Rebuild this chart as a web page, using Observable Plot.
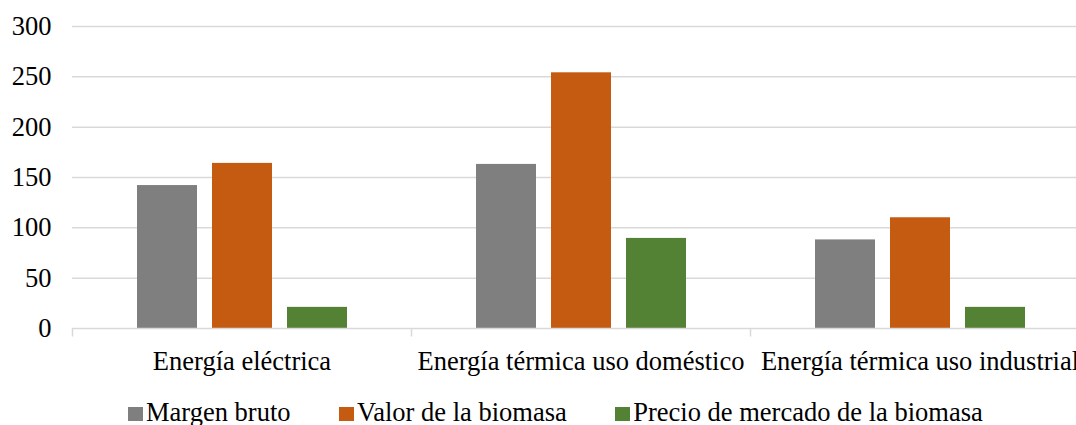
<!DOCTYPE html>
<html lang="es">
<head>
<meta charset="utf-8">
<script src="https://cdn.jsdelivr.net/npm/d3@7"></script>
<script src="https://cdn.jsdelivr.net/npm/@observablehq/plot@0.6"></script>
<style>
  html, body { margin: 0; padding: 0; background: #fff; overflow: hidden; }
  #chart svg { display: block; }
  #chart svg, #chart svg text {
    font-family: "Liberation Serif", "Tinos", "Times New Roman", Times, "DejaVu Serif", serif;
  }
  #legend {
    display: flex;
    padding-left: 128px;
    margin-top: 8px;
    font-family: "Liberation Serif", "Tinos", "Times New Roman", Times, "DejaVu Serif", serif;
    font-size: 26.5px;
    line-height: 29px;
    color: #000;
    white-space: nowrap;
  }
  #legend .item { margin-right: 48.5px; }
  #legend .swatch {
    display: inline-block;
    width: 14.5px;
    height: 14.5px;
    margin-right: 3.5px;
    vertical-align: baseline;
  }
</style>
</head>
<body>
<div id="chart"></div>
<div id="legend"></div>
<script>
// Categories on the horizontal axis
const categories = ["Energía eléctrica", "Energía térmica uso doméstico", "Energía térmica uso industrial"];

// Series names and their values per category
const series = ["Margen bruto", "Valor de la biomasa", "Precio de mercado de la biomasa"];
const margenBruto = [142, 163, 88];
const valorBiomasa = [164, 254, 110];
const precioMercado = [21, 89.5, 21];
const seriesColors = ["#7f7f7f", "#c55a11", "#548235"];

// Value axis ticks
const yTicks = [0, 50, 100, 150, 200, 250, 300];

const seriesValues = [margenBruto, valorBiomasa, precioMercado];
const rows = [];
categories.forEach((category, i) => {
  series.forEach((s, j) => {
    rows.push({ category, series: s, value: seriesValues[j][i] });
  });
});

const W = 1089, H = 390, ML = 72, MR = 0;
const halfGroup = (W - ML - MR) / categories.length / 2;

const chart = Plot.plot({
  width: W,
  height: H,
  marginLeft: ML,
  marginRight: MR,
  marginTop: 26,
  marginBottom: 62,
  style: { fontSize: "26.5px", color: "#000", background: "#fff", maxWidth: "none", overflow: "visible" },
  fx: { domain: categories, padding: 0, label: null },
  x: { domain: series, paddingInner: 0.2, paddingOuter: 0.86, axis: null },
  y: { domain: [0, 300], axis: null },
  color: { domain: series, range: seriesColors },
  marks: [
    Plot.gridY(yTicks.filter(t => t > 0), { stroke: "#d9d9d9", strokeOpacity: 1, strokeWidth: 1.5 }),
    Plot.barY(rows, { fx: "category", x: "series", y: "value", fill: "series" }),
    Plot.ruleY([0], { stroke: "#d9d9d9", strokeWidth: 1.5 }),
    Plot.axisY(yTicks, { tickSize: 0, tickPadding: 21, fontSize: 26.5, label: null }),
    Plot.axisFx({ anchor: "bottom", tickSize: 0, tickPadding: 23, fontSize: 26.5, label: null }),
    // short separators between category groups, below the baseline
    Plot.axisFx({ anchor: "bottom", tickSize: 8.5, tickFormat: () => "", dx: -halfGroup,
                  stroke: "#d9d9d9", strokeWidth: 1.5, label: null })
  ]
});
document.getElementById("chart").append(chart);

// Legend below the chart
const legend = d3.select("#legend");
series.forEach((s, i) => {
  const item = legend.append("span").attr("class", "item");
  item.append("span").attr("class", "swatch").style("background", seriesColors[i]);
  item.append("span").text(s);
});
</script>
</body>
</html>
